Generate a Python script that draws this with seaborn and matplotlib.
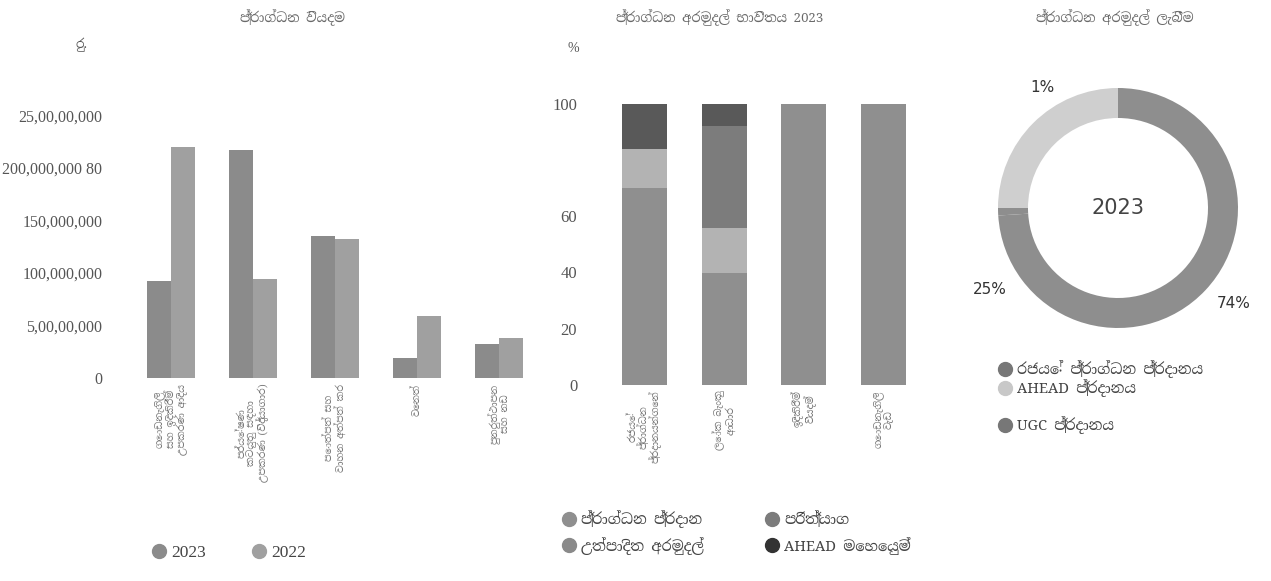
import matplotlib
matplotlib.use("Agg")
import matplotlib.pyplot as plt
from matplotlib import font_manager
from matplotlib.lines import Line2D
import seaborn as sns
import pandas as pd

# ---------------- data ----------------
exp_categories = [
    "ගොඩනැගිලි\nසහ ඉදිකිරීම්\nඋපකරණ ආදිය",
    "පර්යේෂණ\nකටයුතු සඳහා\nඋපකරණ (විද්‍යාගාර)",
    "පොත්පත් සහ\nවාහන අත්පත් කර",
    "වෙනත්",
    "පුනරුත්ථාපන\nසහ නඩ",
]
exp_2023 = [92_000_000, 217_000_000, 135_000_000, 19_000_000, 32_000_000]
exp_2022 = [220_000_000, 94_000_000, 132_000_000, 59_000_000, 38_000_000]
exp_years = ["2023", "2022"]
exp_ticks = [0, 50_000_000, 100_000_000, 150_000_000, 200_000_000, 250_000_000]
exp_tick_labels = ["0", "5,00,00,000", "100,000,000", "150,000,000",
                   "200,000,000 80", "25,00,00,000"]

use_categories = [
    "රජයේ\nප්‍රාග්ධන\nප්‍රදානයන්ගෙන්",
    "ලෝක බැංකු\nආධාර",
    "ඉදිකිරීම්\nවියදම්",
    "ගොඩනැගිලි\nවැඩ",
]
use_series = ["ප්‍රාග්ධන ප්‍රදාන", "උත්පාදිත අරමුදල්", "පරිත්‍යාග", "AHEAD මෙහෙයුම්"]
use_grant = [70, 40, 100, 100]
use_generated = [14, 16, 0, 0]
use_donation = [0, 36, 0, 0]
use_ahead = [16, 8, 0, 0]
use_ticks = [0, 20, 40, 60, 100]

rec_labels = ["රජයේ ප්‍රාග්ධන ප්‍රදානය", "UGC ප්‍රදානය", "AHEAD ප්‍රදානය"]
rec_values = [74, 1, 25]
rec_pct_text = ["74%", "1%", "25%"]

# ---------------- style ----------------
sns.set_theme(style="white")
avail = {f.name for f in font_manager.fontManager.ttflist}
sinhala = [n for n in avail if "Sinhala" in n]
serif_fam = sinhala + ["Liberation Serif", "DejaVu Serif"]
sans_fam = sinhala + ["DejaVu Sans"]
num_fam = ["Liberation Serif", "DejaVu Serif"]
plt.rcParams["font.family"] = serif_fam

W, H = 1271, 581
fig = plt.figure(figsize=(W / 100, H / 100), dpi=100)
fig.patch.set_facecolor("white")

def fx(px):
    return px / W

def fy(py):
    return 1 - py / H

TXT = "#555555"
TITLE = "#6a6a6a"

# ---------------- left: grouped bars ----------------
c23, c22 = "#8b8b8b", "#a0a0a0"
ax1 = fig.add_axes([fx(130), fy(378), fx(410), (378 - 74) / H])
df1 = pd.DataFrame({
    "cat": exp_categories * 2,
    "year": [exp_years[0]] * len(exp_categories) + [exp_years[1]] * len(exp_categories),
    "val": exp_2023 + exp_2022,
})
sns.barplot(data=df1, x="cat", y="val", hue="year", order=exp_categories,
            hue_order=exp_years, palette=[c23, c22], width=0.58, gap=0,
            saturation=1, ax=ax1, legend=False, edgecolor="none")
ax1.set_ylim(0, 304 / 52.5 * 50_000_000)
ax1.set_yticks(exp_ticks)
ax1.set_yticklabels(exp_tick_labels, fontsize=11.5, color=TXT, family=num_fam)
ax1.set_xticks(range(len(exp_categories)))
ax1.set_xticklabels(exp_categories, rotation=90, fontsize=7, color="#777777",
                    linespacing=1.0, family=sans_fam)
ax1.tick_params(axis="y", length=0, pad=20)
ax1.tick_params(axis="x", length=0, pad=4)
ax1.set_xlabel("")
ax1.set_ylabel("")
for s in ax1.spines.values():
    s.set_visible(False)
fig.text(fx(293), fy(18), "ප්‍රාග්ධන වියදම", ha="center", va="center",
         fontsize=9.5, color=TITLE, family=sans_fam)
fig.text(fx(82), fy(45), "රු.", ha="center", va="center", fontsize=9,
         color=TXT, family=sans_fam)
leg1 = [Line2D([], [], marker="o", ls="none", markersize=10, color=c23, label=exp_years[0]),
        Line2D([], [], marker="o", ls="none", markersize=10, color=c22, label=exp_years[1])]
fig.legend(handles=leg1, loc="center left", bbox_to_anchor=(fx(150), fy(553)),
           ncol=2, frameon=False, handletextpad=0.2, handlelength=1.0,
           borderpad=0, borderaxespad=0, columnspacing=2.6,
           labelcolor="#444444", prop={"family": num_fam, "size": 12.5})

# ---------------- middle: stacked bars ----------------
col_grant, col_gen, col_don, col_ahead = "#8f8f8f", "#b3b3b3", "#7c7c7c", "#595959"
ax2 = fig.add_axes([fx(605), fy(385), fx(318), (385 - 70) / H])
layers = [use_grant, use_generated, use_donation, use_ahead]
layer_cols = [col_grant, col_gen, col_don, col_ahead]
cum = []
run = [0] * len(use_categories)
for lay in layers:
    run = [a + b for a, b in zip(run, lay)]
    cum.append(list(run))
for level in range(len(layers) - 1, -1, -1):
    d = pd.DataFrame({"cat": use_categories, "val": cum[level]})
    sns.barplot(data=d, x="cat", y="val", order=use_categories,
                color=layer_cols[level], width=0.57, saturation=1,
                ax=ax2, edgecolor="none")
ax2.set_ylim(0, 112)
ax2.set_xlim(-0.5, len(use_categories) - 0.5)
ax2.set_yticks(use_ticks)
ax2.set_yticklabels([str(t) for t in use_ticks], fontsize=12, color=TXT,
                    family=num_fam)
ax2.set_xticks(range(len(use_categories)))
ax2.set_xticklabels(use_categories, rotation=90, fontsize=7, color="#777777",
                    linespacing=1.0, family=sans_fam)
ax2.tick_params(axis="y", length=0, pad=20)
ax2.tick_params(axis="x", length=0, pad=4)
ax2.set_xlabel("")
ax2.set_ylabel("")
for s in ax2.spines.values():
    s.set_visible(False)
fig.text(fx(720), fy(18), "ප්‍රාග්ධන අරමුදල් භාවිතය 2023", ha="center",
         va="center", fontsize=9.5, color=TITLE, family=sans_fam)
fig.text(fx(573), fy(48), "%", ha="center", va="center", fontsize=10,
         color=TXT, family=num_fam)
leg2 = [Line2D([], [], marker="o", ls="none", markersize=10, color=col_grant, label=use_series[0]),
        Line2D([], [], marker="o", ls="none", markersize=10, color="#8a8a8a", label=use_series[1]),
        Line2D([], [], marker="o", ls="none", markersize=10, color=col_don, label=use_series[2]),
        Line2D([], [], marker="o", ls="none", markersize=10, color="#333333", label=use_series[3])]
fig.legend(handles=leg2, loc="upper left", bbox_to_anchor=(fx(562), fy(510)),
           ncol=2, frameon=False, handletextpad=0.3, handlelength=1.0,
           borderpad=0, borderaxespad=0, columnspacing=4.2,
           labelspacing=0.6, labelcolor="#444444",
           prop={"family": sans_fam, "size": 10.5})

# ---------------- right: donut ----------------
rec_cols = ["#8e8e8e", "#8e8e8e", "#cfcfcf"]
ax3 = fig.add_axes([fx(968), fy(358), fx(300), 300 / H])
ax3.pie(rec_values, colors=rec_cols, startangle=90, counterclock=False,
        wedgeprops={"width": 0.25, "edgecolor": "none", "linewidth": 0})
ax3.set_aspect("equal")
ax3.text(0, 0, "2023", ha="center", va="center", fontsize=15, color="#444444",
         family=["DejaVu Sans"])
pct_pos = [(0.96, -0.80), (-0.63, 1.0), (-1.07, -0.68)]
for t, (x, y) in zip(rec_pct_text, pct_pos):
    ax3.text(x, y, t, ha="center", va="center", fontsize=11, color="#333333",
             family=["DejaVu Sans"])
fig.text(fx(1115), fy(18), "ප්‍රාග්ධන අරමුදල් ලැබීම", ha="center",
         va="center", fontsize=9.5, color=TITLE, family=sans_fam)
leg3a = [Line2D([], [], marker="o", ls="none", markersize=10, color="#777777", label=rec_labels[0]),
         Line2D([], [], marker="o", ls="none", markersize=10, color="#c8c8c8", label=rec_labels[2])]
fig.legend(handles=leg3a, loc="upper left", bbox_to_anchor=(fx(998), fy(360)),
           frameon=False, handletextpad=0.3, handlelength=1.0, labelspacing=0.1,
           borderpad=0, borderaxespad=0,
           labelcolor="#444444", prop={"family": serif_fam, "size": 10.5})
leg3b = [Line2D([], [], marker="o", ls="none", markersize=10, color="#777777", label=rec_labels[1])]
fig.legend(handles=leg3b, loc="upper left", bbox_to_anchor=(fx(998), fy(416)),
           frameon=False, handletextpad=0.3, handlelength=1.0,
           borderpad=0, borderaxespad=0,
           labelcolor="#444444", prop={"family": serif_fam, "size": 10.5})

fig.savefig("out.png", dpi=100, facecolor="white")
